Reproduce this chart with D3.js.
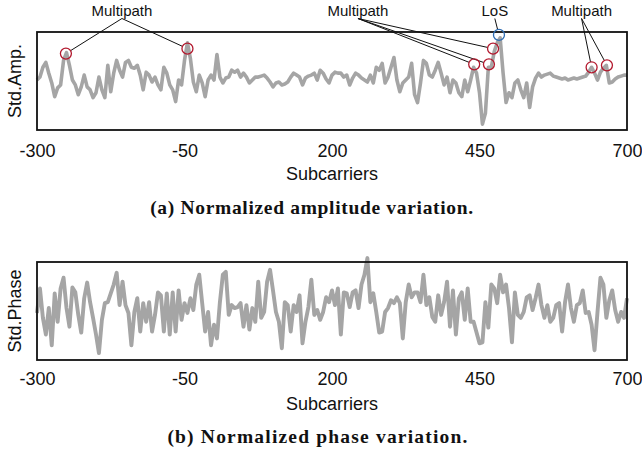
<!DOCTYPE html>
<html>
<head>
<meta charset="utf-8">
<script src="https://cdn.jsdelivr.net/npm/d3@7/dist/d3.min.js"></script>
<style>
  body { margin: 0; background: #fff; }
  svg { display: block; }
</style>
</head>
<body>
<div id="chart"></div>
<script>
var width = 642, height = 454;

// subcarrier axis
var xTicks = [-300, -50, 200, 450, 700];
var subStart = -300, subStep = 5;

// normalised std of amplitude, one value every 5 subcarriers (-300 .. 700)
var ampValues = [
  .51,.54,.64,.69,.58,.48,.34,.43,.46,.71,
  .79,.66,.51,.46,.36,.44,.56,.44,.41,.33,
  .38,.54,.41,.33,.66,.39,.58,.71,.61,.54,
  .69,.71,.64,.63,.66,.56,.41,.59,.56,.49,
  .54,.46,.41,.64,.58,.46,.41,.29,.51,.46,
  .71,.89,.73,.49,.39,.56,.48,.34,.51,.56,
  .51,.77,.54,.48,.53,.54,.61,.59,.61,.54,
  .58,.54,.48,.51,.54,.54,.55,.56,.53,.49,
  .44,.48,.49,.46,.47,.49,.54,.58,.56,.54,
  .46,.53,.55,.56,.58,.51,.61,.58,.52,.48,
  .56,.59,.58,.58,.54,.56,.46,.53,.58,.56,
  .53,.51,.49,.56,.48,.64,.61,.68,.48,.54,
  .64,.74,.51,.39,.48,.51,.54,.68,.36,.28,
  .48,.71,.68,.56,.54,.61,.69,.58,.46,.54,
  .38,.51,.48,.38,.34,.51,.39,.51,.64,.58,
  .38,.06,.17,.64,.64,.80,.89,.94,.58,.28,
  .38,.33,.48,.51,.41,.33,.48,.23,.44,.53,
  .58,.54,.56,.57,.58,.55,.54,.53,.52,.53,
  .51,.52,.53,.52,.53,.54,.55,.59,.64,.58,
  .51,.59,.63,.66,.48,.49,.52,.54,.55,.56,
  .56
];

// normalised std of phase, same subcarriers
var phaseValues = [
  .48,.73,.43,.26,.53,.15,.68,.39,.73,.84,
  .53,.34,.74,.69,.46,.28,.63,.79,.59,.43,
  .26,.07,.41,.58,.59,.68,.77,.89,.56,.80,
  .56,.48,.15,.49,.63,.29,.58,.39,.59,.29,
  .46,.69,.66,.29,.68,.26,.69,.29,.71,.41,
  .58,.48,.63,.51,.77,.87,.58,.29,.49,.15,
  .36,.22,.59,.87,.90,.46,.56,.53,.54,.58,
  .34,.56,.31,.53,.39,.80,.43,.49,.80,.92,
  .71,.49,.39,.12,.59,.56,.29,.56,.49,.66,
  .17,.39,.54,.82,.46,.51,.41,.49,.64,.59,
  .71,.56,.73,.26,.69,.68,.54,.69,.71,.53,
  .77,.87,1.04,.59,.68,.49,.28,.29,.49,.53,
  .61,.58,.64,.58,.22,.59,.77,.64,.69,.69,
  .59,.87,.56,.64,.44,.39,.66,.46,.59,.80,
  .34,.71,.26,.63,.69,.41,.73,.39,.39,.28,
  .17,.18,.59,.33,.77,.73,.58,.87,.69,.77,
  .53,.18,.69,.46,.43,.49,.64,.66,.51,.63,
  .77,.56,.43,.56,.39,.43,.56,.58,.29,.59,
  .77,.53,.39,.56,.58,.71,.48,.49,.36,.10,
  .49,.84,.77,.43,.61,.71,.51,.39,.49,.43,
  .63
];

// marked peaks in the amplitude plot
var markSub = [-251, -45, 441, 466, 473, 483, 640, 666];
var markVal = [.78, .83, .67, .67, .83, .97, .64, .66];
var markKind = ["mp", "mp", "mp", "mp", "mp", "los", "mp", "mp"];

// annotation labels and which marks they point to
var noteText = ["Multipath", "Multipath", "LoS", "Multipath"];
var noteSub = [-156, 244, 476, 623];
var noteTargets = [[0, 1], [2, 3, 4], [5], [6, 7]];

var captions = ["(a) Normalized amplitude variation.", "(b) Normalized phase variation."];

var svg = d3.select("#chart").append("svg")
  .attr("width", width)
  .attr("height", height);

var x = d3.scaleLinear().domain([-300, 700]).range([37, 627]);

var sans = "'Liberation Sans', Arial, sans-serif";
var lineColor = "#a5a5a5";

function drawPanel(values, top, bottom, ylabel, tickPad, titleY, capY, caption, capW, capX, sw) {
  var y = d3.scaleLinear().domain([0, 1]).range([bottom, top]);
  var g = svg.append("g");

  var line = d3.line()
    .x(function(d, i) { return x(subStart + i * subStep); })
    .y(function(d) { return y(d); });

  g.append("path")
    .datum(values)
    .attr("d", line)
    .attr("fill", "none")
    .attr("stroke", lineColor)
    .attr("stroke-width", sw)
    .attr("stroke-linejoin", "round");

  // frame
  g.append("rect")
    .attr("x", x(-300)).attr("y", top)
    .attr("width", x(700) - x(-300)).attr("height", bottom - top)
    .attr("fill", "none")
    .attr("stroke", "#111")
    .attr("stroke-width", 1.8);

  var ax = g.append("g")
    .attr("transform", "translate(0," + bottom + ")")
    .call(d3.axisBottom(x).tickValues(xTicks).tickSize(0).tickPadding(tickPad)
      .tickFormat(function(d) { return String(d); }));
  ax.select(".domain").remove();
  ax.selectAll("text")
    .style("font-family", sans)
    .style("font-size", "18px")
    .attr("fill", "#111");

  g.append("text")
    .attr("x", (x(-300) + x(700)) / 2)
    .attr("y", titleY)
    .attr("text-anchor", "middle")
    .style("font-family", sans)
    .style("font-size", "18px")
    .attr("fill", "#111")
    .text("Subcarriers");

  g.append("text")
    .attr("transform", "translate(21," + ((top + bottom) / 2) + ") rotate(-90)")
    .attr("text-anchor", "middle")
    .style("font-family", sans)
    .style("font-size", "18px")
    .attr("fill", "#111")
    .text(ylabel);

  var cap = g.append("text")
    .attr("x", capX)
    .attr("y", capY)
    .attr("text-anchor", "middle")
    .style("font-family", "'Liberation Serif', 'Times New Roman', serif")
    .style("font-weight", "bold")
    .style("font-size", "19.5px")
    .attr("fill", "#111")
    .text(caption);
  var w = cap.node().getComputedTextLength();
  cap.style("letter-spacing", ((capW - w) / (caption.length - 1)) + "px");

  return y;
}

var yAmp = drawPanel(ampValues, 32, 130, "Std.Amp.", 14, 180, 214, captions[0], 323, 312, 3.6);
drawPanel(phaseValues, 262, 360, "Std.Phase", 12, 410, 443, captions[1], 300, 318, 3.9);

// annotation leader lines
var r = 5.5;
var notes = svg.append("g");
noteText.forEach(function(t, k) {
  var ax0 = x(noteSub[k]), ay0 = 18.5;
  noteTargets[k].forEach(function(m) {
    var cx = x(markSub[m]), cy = yAmp(markVal[m]);
    var dx = cx - ax0, dy = cy - ay0, len = Math.sqrt(dx * dx + dy * dy);
    notes.append("line")
      .attr("x1", ax0).attr("y1", ay0)
      .attr("x2", cx - dx / len * r).attr("y2", cy - dy / len * r)
      .attr("stroke", "#111")
      .attr("stroke-width", 1);
  });
  notes.append("text")
    .attr("x", ax0)
    .attr("y", 16)
    .attr("text-anchor", "middle")
    .style("font-family", sans)
    .style("font-size", "15px")
    .attr("fill", "#111")
    .text(t);
});

// circles on the peaks
svg.append("g")
  .selectAll("circle")
  .data(markSub)
  .enter()
  .append("circle")
  .attr("cx", function(d) { return x(d); })
  .attr("cy", function(d, i) { return yAmp(markVal[i]); })
  .attr("r", r)
  .attr("fill", "none")
  .attr("stroke", function(d, i) { return markKind[i] == "los" ? "#2f6db3" : "#b3192e"; })
  .attr("stroke-width", 1.3);
</script>
</body>
</html>
